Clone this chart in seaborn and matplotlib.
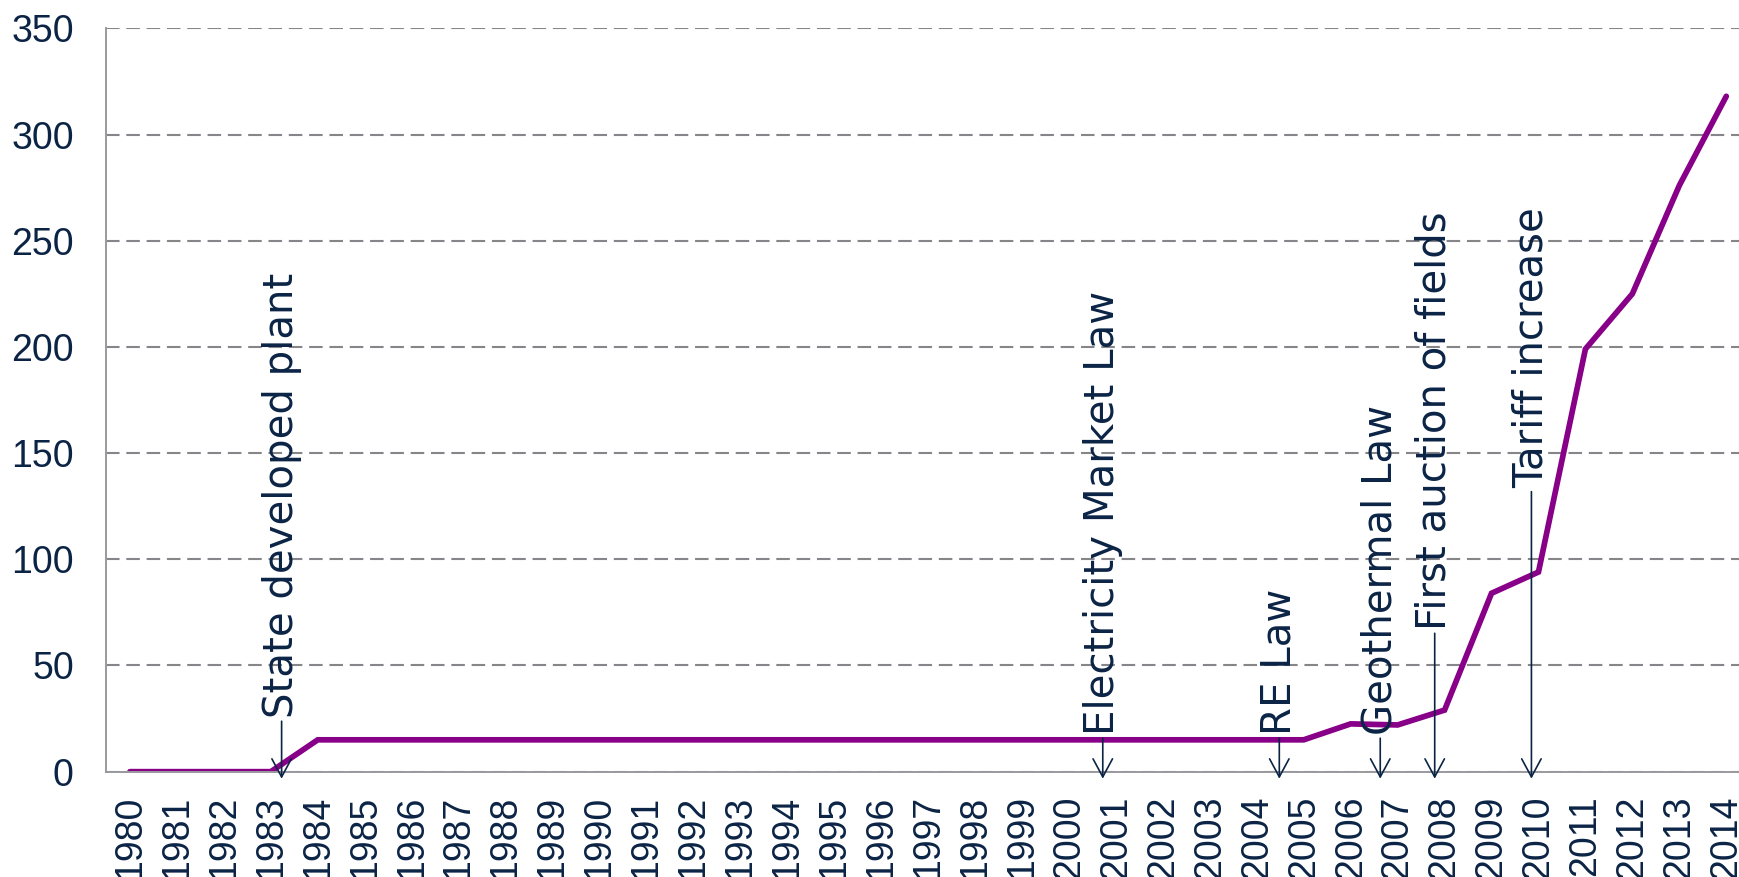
import matplotlib
matplotlib.use("Agg")
import matplotlib.pyplot as plt
import seaborn as sns
import pandas as pd
from matplotlib.ticker import FixedLocator

years = [str(y) for y in range(1980, 2015)]
capacity = [0, 0, 0, 0,
            15, 15, 15, 15, 15, 15, 15, 15, 15, 15, 15,
            15, 15, 15, 15, 15, 15, 15, 15, 15, 15, 15,
            22.5, 22, 29, 84, 94, 199, 225, 276, 318]

event_labels = ["State developed plant", "Electricity Market Law", "RE Law",
                "Geothermal Law", "First auction of fields", "Tariff increase"]
event_pos = [3.23, 20.72, 24.48, 26.63, 27.79, 29.85]
event_text_y = [25.3, 17.3, 17.3, 17.3, 66.7, 133.4]

yticks = [0, 50, 100, 150, 200, 250, 300, 350]

sns.set_style("white")
plt.rcParams['font.family'] = ['Liberation Sans', 'DejaVu Sans']

NAVY = "#0b2445"
GRID = "#86868a"
SPINE = "#9a9a9e"
PURPLE = "#870087"

df = pd.DataFrame({"year": years, "capacity": capacity})

fig = plt.figure(figsize=(17.4, 8.77), dpi=100)
ax = fig.add_axes([0.0612, 0.1201, 0.9444, 0.8476])

sns.lineplot(data=df, x="year", y="capacity", ax=ax, color=PURPLE, lw=4.1,
             sort=False, solid_capstyle="round", solid_joinstyle="miter")

ax.set_xlim(-0.5, len(years) - 0.5)
ax.set_ylim(0, 350)
ax.set_xlabel("")
ax.set_ylabel("")

ax.set_yticks(yticks)
ax.set_yticklabels([str(v) for v in yticks])
ax.set_xticks(range(len(years)))
ax.set_xticklabels(years, rotation=90)
ax.xaxis.set_minor_locator(FixedLocator([i - 0.5 for i in range(len(years) + 1)]))

ax.tick_params(axis="x", which="major", length=0, pad=17, labelsize=27, labelcolor=NAVY)
ax.tick_params(axis="x", which="minor", length=8, width=1.4, color=SPINE, direction="out")
ax.tick_params(axis="y", which="major", length=8, width=1.4, color=SPINE, pad=15.5,
               labelsize=27, labelcolor=NAVY, direction="out")

ax.yaxis.grid(True, color=GRID, lw=1.5, linestyle=(0, (6.5, 3.25)))
ax.xaxis.grid(False)
ax.set_axisbelow(True)

for s in ["top", "right"]:
    ax.spines[s].set_visible(False)
for s in ["left", "bottom"]:
    ax.spines[s].set_color(SPINE)
    ax.spines[s].set_linewidth(1.4)

for lab, xp, ty in zip(event_labels, event_pos, event_text_y):
    ax.annotate(lab, xy=(xp, -3.3), xytext=(xp, ty), textcoords="data",
                rotation=90, ha="center", va="bottom", fontsize=29,
                color=NAVY, family=["DejaVu Sans"], annotation_clip=False,
                arrowprops=dict(arrowstyle="->,head_length=1.3,head_width=0.7",
                                mutation_scale=10, lw=1.2, color=NAVY,
                                shrinkA=0, shrinkB=0))

fig.savefig("out.png", dpi=100)
